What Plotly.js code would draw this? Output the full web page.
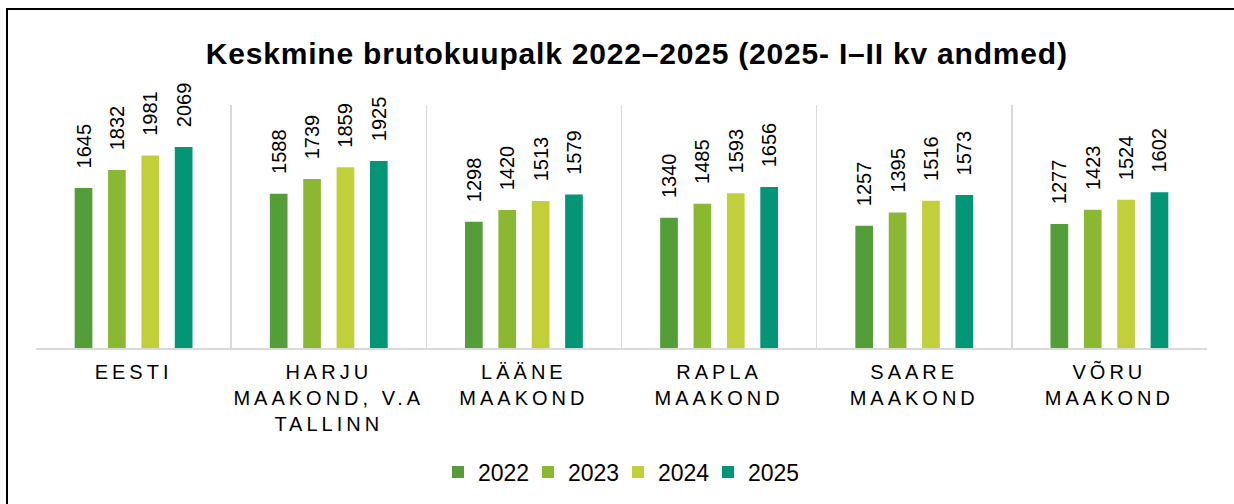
<!DOCTYPE html>
<html>
<head>
<meta charset="utf-8">
<script src="https://cdn.plot.ly/plotly-3.0.1.min.js"></script>
<style>
html, body { margin: 0; padding: 0; background: #fff; }
#chart { width: 1234px; height: 504px; }
#frame { position: absolute; left: 6px; top: 8px; width: 1400px; height: 700px;
  border-left: 2px solid #000; border-top: 2px solid #000; pointer-events: none; }
.xtick text { letter-spacing: 4px; }
.gtitle { letter-spacing: 0.8px; }
</style>
</head>
<body>
<div id="chart"></div>
<div id="frame"></div>
<script>
const categories = ["EESTI", "HARJU<br>MAAKOND, V.A<br>TALLINN", "LÄÄNE<br>MAAKOND", "RAPLA<br>MAAKOND", "SAARE<br>MAAKOND", "VÕRU<br>MAAKOND"];
const years = ["2022", "2023", "2024", "2025"];
const v2022 = [1645, 1588, 1298, 1340, 1257, 1277];
const v2023 = [1832, 1739, 1420, 1485, 1395, 1423];
const v2024 = [1981, 1859, 1513, 1593, 1516, 1524];
const v2025 = [2069, 1925, 1579, 1656, 1573, 1602];
const colors = ["#549E39", "#8AB833", "#C0CF3A", "#029676"];
const series = [v2022, v2023, v2024, v2025];

const traces = series.map((vals, i) => ({
  type: "bar",
  name: years[i],
  x: categories,
  y: vals,
  marker: { color: colors[i], line: { width: 0 } },
  text: vals.map(v => "\u00a0\u00a0\u00a0" + v),
  textposition: "outside",
  textangle: -90,
  constraintext: "none",
  cliponaxis: false,
  textfont: { family: "Liberation Sans, Arial, sans-serif", size: 20, color: "#000" },
  hoverinfo: "skip"
}));

const layout = {
  width: 1234, height: 504,
  margin: { l: 36, r: 27, t: 105, b: 156 },
  paper_bgcolor: "rgba(0,0,0,0)",
  plot_bgcolor: "#fff",
  barmode: "group",
  bargap: 0.316,
  bargroupgap: 0.47,
  title: {
    text: "<b>Keskmine brutokuupalk 2022–2025 (2025- I–II kv andmed)</b>",
    font: { family: "Liberation Sans, Arial, sans-serif", size: 30, color: "#000" },
    x: 0.516, xanchor: "center", xref: "container",
    y: 1 - 53 / 504, yanchor: "middle", yref: "container"
  },
  xaxis: {
    type: "category",
    range: [-0.5, 5.5],
    tickson: "boundaries",
    ticks: "",
    showgrid: true, gridcolor: "#d9d9d9", gridwidth: 1.5,
    showline: true, linecolor: "#d9d9d9", linewidth: 1.5,
    tickfont: { family: "Liberation Sans, Arial, sans-serif", size: 20, color: "#000" },
    ticklabelstandoff: 5,
    fixedrange: true
  },
  yaxis: {
    range: [0, 2500],
    showgrid: false, zeroline: false, showticklabels: false, showline: false,
    fixedrange: true
  },
  showlegend: true,
  legend: {
    orientation: "h",
    xref: "container", yref: "container",
    x: 0.5008, xanchor: "center",
    y: 1 - 472 / 504, yanchor: "middle",
    entrywidth: 45,
    font: { family: "Liberation Sans, Arial, sans-serif", size: 23, color: "#000" },
    traceorder: "normal"
  }
};

Plotly.newPlot("chart", traces, layout, { staticPlot: true, displayModeBar: false });
</script>
</body>
</html>
